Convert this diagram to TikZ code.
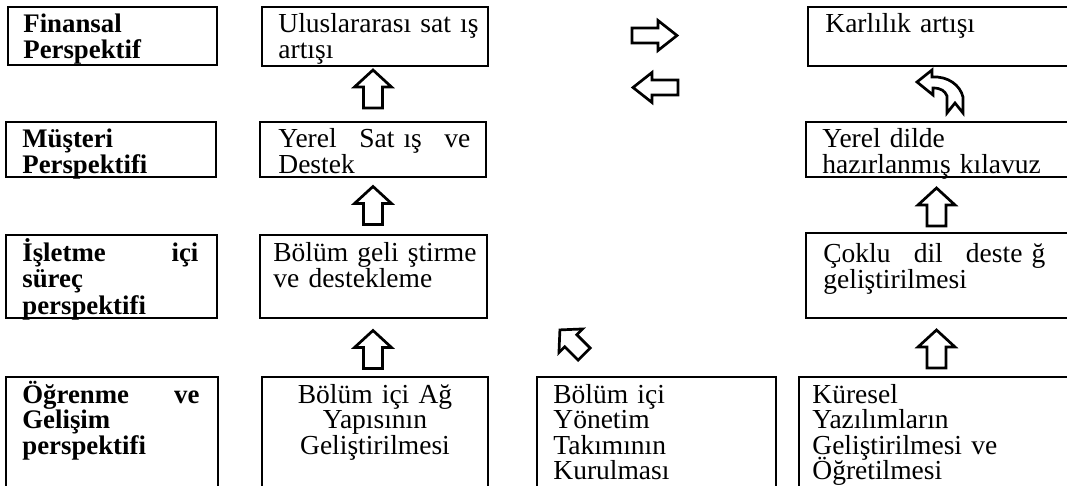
\documentclass[tikz,border=0pt]{standalone}
\usepackage{fontspec}
\setmainfont{Liberation Serif}
\usetikzlibrary{fit}
\begin{document}
\begin{tikzpicture}[x=0.5pt,y=-0.5pt,
  box/.style={draw, line width=0.55pt, inner sep=0pt},
  txt/.style={inner sep=0pt, anchor=north west, align=left, font=\fontsize{13.75}{#1}\selectfont,
    execute at begin node={\lineskiplimit=-20pt\rule{0pt}{12.5pt}}},
  txtb/.style={txt=#1, font=\bfseries\fontsize{13.4}{#1}\selectfont},
  arrowline/.style={draw=black, fill=white, line width=1.35pt, line join=miter},
  uparr/.pic={\path[arrowline] (0,-19) -- (18.5,-2) -- (9.5,-2) -- (9.5,19) -- (-9.5,19) -- (-9.5,-2) -- (-18.5,-2) -- cycle;},
  rarr/.pic={\path[arrowline] (22.5,0) -- (3.5,-15) -- (3.5,-7.5) -- (-22.5,-7.5) -- (-22.5,7.5) -- (3.5,7.5) -- (3.5,15) -- cycle;}
]
\useasboundingbox (0,0) rectangle (1067,486);
\clip (0,0) rectangle (1067,486);
\fill[white] (0,0) rectangle (1067,486);

% boxes
\node[box, fit={(8,7) (217,65)}] (fin) {};
\node[box, fit={(262,7) (488,66)}] (ulus) {};
\node[box, fit={(808,7) (1080,66)}] (karl) {};
\node[box, fit={(6,122) (216,177)}] (must) {};
\node[box, fit={(260,122) (486,177)}] (yerels) {};
\node[box, fit={(806,122) (1080,177)}] (yereld) {};
\node[box, fit={(6,235) (217,318)}] (islt) {};
\node[box, fit={(260,235) (487,318)}] (bolg) {};
\node[box, fit={(806,233) (1080,318)}] (coklu) {};
\node[box, fit={(6,377) (218,520)}] (ogr) {};
\node[box, fit={(262,377) (488,520)}] (bolag) {};
\node[box, fit={(537,377) (776,520)}] (bolyon) {};
\node[box, fit={(799,377) (1080,520)}] (kuresel) {};

% texts (position = first baseline minus 25px)
\node[txtb=13pt, text width=100pt] (finT) at (23,7) {Finansal\\Perspektif};
\node[txt=13pt, text width=104pt] (ulusT) at (278,7) {Uluslararası sat ış\\artışı};
\node[txt=13pt, text width=110pt] (karlT) at (825,7) {Karlılık artışı};
\node[txtb=13.25pt, text width=100pt] (mustT) at (22,122) {Müşteri\\Perspektifi};
\node[txt=13.25pt, text width=96pt] (yerelsT) at (278,122) {Yerel\hfill Sat ış\hfill ve\\Destek};
\node[txt=13.25pt, text width=115pt] (yereldT) at (822,122) {Yerel dilde\\hazırlanmış kılavuz};
\node[txtb=13.25pt, text width=88pt] (isltT) at (22,236) {İşletme\hfill içi\\süreç\\perspektifi};
\node[txt=13.25pt, text width=105pt] (bolgT) at (273,236) {Bölüm geli ştirme\\ve destekleme};
\node[txt=13.25pt, text width=111pt] (cokluT) at (823,237) {Çoklu\hfill dil\hfill deste ğ\\geliştirilmesi};
\node[txtb=12.75pt, text width=88.5pt] (ogrT) at (22,378) {Öğrenme\hfill ve\\Gelişim\\perspektifi};
\node[txt=12.75pt, text width=110pt, anchor=north, align=center] (bolagT) at (375,378) {Bölüm içi Ağ\\Yapısının\\Geliştirilmesi};
\node[txt=12.75pt, text width=110pt] (bolyonT) at (553,378) {Bölüm içi\\Yönetim\\Takımının\\Kurulması};
\node[txt=12.75pt, text width=125pt] (kureselT) at (812,378) {Küresel\\Yazılımların\\Geliştirilmesi ve\\Öğretilmesi};

% block arrows
\pic (u1) at (373,89) {uparr};
\pic (u2) at (373,205.5) {uparr};
\pic (u3) at (373,349.5) {uparr};
\pic (u4) at (936.5,207) {uparr};
\pic (u5) at (936.5,349) {uparr};
\pic (r1) at (654.5,35.5) {rarr};
\pic[rotate=180] (l1) at (655.5,87.5) {rarr};
\pic[rotate=45, scale=0.9] (d1) at (572,342) {uparr};
% curved arrow
\path[arrowline] (917,82) -- (932,70) -- (932,77)
  .. controls (948,76) and (960,85) .. (963,97) -- (963,113) -- (955,103) -- (947,113) -- (947,96)
  .. controls (945,91) and (941,88) .. (933,88) -- (933,95) -- cycle;
\end{tikzpicture}
\end{document}
